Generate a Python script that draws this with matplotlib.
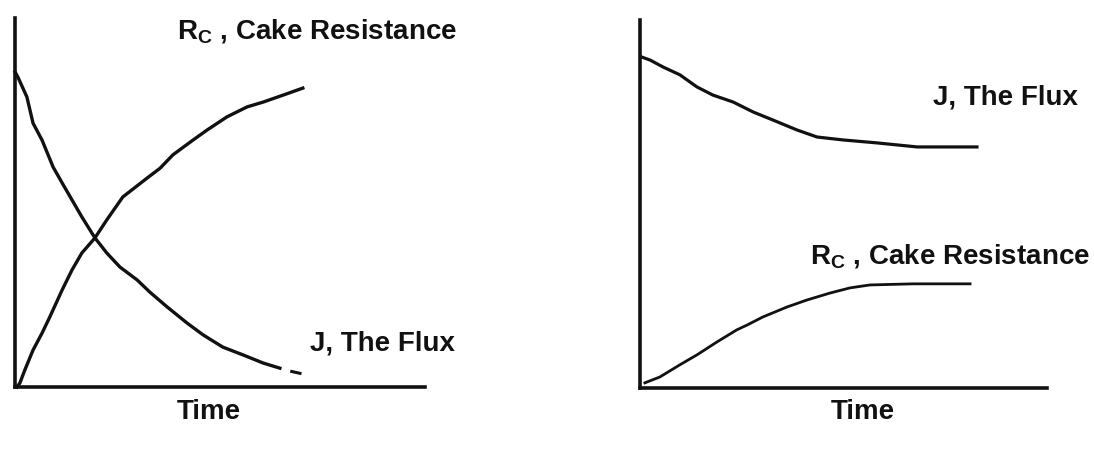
import matplotlib.pyplot as plt

# curves, in percent of each axis box
t_flux_a = [0, 0.7, 2.9, 4.4, 6.6, 9.3, 11.5, 13.9, 16.3, 19.5, 22.4, 25.6,
            29.8, 32.9, 37.1, 42.0, 45.9, 50.7, 55.6, 60.5, 64.6]
flux_a = [85.4, 84.0, 78.6, 71.5, 66.9, 59.6, 55.3, 50.7, 46.1, 40.4, 36.3,
          32.5, 29.0, 25.7, 21.7, 17.3, 14.1, 10.8, 8.7, 6.5, 5.1]
t_flux_a_tail = [67.5, 69.5]
flux_a_tail = [4.2, 3.7]
t_rc_a = [0.5, 1.2, 2.4, 4.4, 6.6, 8.5, 11.5, 13.9, 16.3, 19.5, 22.4, 26.3,
          32.2, 35.4, 38.5, 43.4, 46.8, 51.7, 56.6, 60.5, 65.4, 70.2]
rc_a = [0, 1.1, 4.6, 10.0, 14.6, 19.0, 26.3, 31.7, 36.3, 40.4, 45.3, 51.5,
        56.6, 59.3, 62.9, 66.9, 69.6, 73.2, 75.9, 77.2, 79.1, 81.0]

t_flux_b = [0.5, 2.5, 5.7, 9.8, 14.0, 17.9, 22.9, 27.8, 32.7, 38.6, 43.5,
            49.9, 58.2, 68.1, 82.8]
flux_b = [89.9, 89.1, 87.2, 85.1, 81.8, 79.6, 77.7, 75.0, 72.8, 70.1, 68.2,
          67.4, 66.6, 65.5, 65.5]
t_rc_b = [1.2, 4.9, 9.8, 14.0, 18.9, 23.8, 26.3, 30.2, 36.1, 41.0, 46.7,
          51.6, 56.5, 67.1, 81.1]
rc_b = [1.4, 3.0, 6.3, 9.0, 12.5, 15.8, 17.1, 19.3, 22.0, 23.9, 25.8, 27.2,
        28.0, 28.3, 28.3]

RC_LABEL = r"R$_\mathregular{C}$ , Cake Resistance"
J_LABEL = "J, The Flux"
X_LABEL = "Time"

plt.rcParams['font.family'] = ['Liberation Sans', 'DejaVu Sans']

fig = plt.figure(figsize=(10.94, 4.54), dpi=100)
ax1 = fig.add_axes([0.0137, 0.1476, 0.3748, 0.8128])
ax2 = fig.add_axes([0.585, 0.1454, 0.372, 0.8106])

ink = '#111111'
txt = dict(fontsize=20, fontweight='bold', color=ink, va='center')


def style(ax):
    ax.set_xlim(0, 100)
    ax.set_ylim(0, 100)
    for s in ['top', 'right']:
        ax.spines[s].set_visible(False)
    for s in ['left', 'bottom']:
        ax.spines[s].set_linewidth(2.6)
        ax.spines[s].set_color(ink)
    ax.set_xticks([])
    ax.set_yticks([])


style(ax1)
ax1.plot(t_flux_a, flux_a, color=ink, lw=2.4, clip_on=False,
         solid_joinstyle='round')
ax1.plot(t_flux_a_tail, flux_a_tail, color=ink, lw=2.2, clip_on=False)
ax1.plot(t_rc_a, rc_a, color=ink, lw=2.4, clip_on=False,
         solid_joinstyle='round')
ax1.text(0.395, 0.962, RC_LABEL, transform=ax1.transAxes, ha='left', **txt)
ax1.text(0.72, 0.119, J_LABEL, transform=ax1.transAxes, ha='left', **txt)
ax1.text(0.473, -0.068, X_LABEL, transform=ax1.transAxes, ha='center', **txt)

style(ax2)
ax2.plot(t_flux_b, flux_b, color=ink, lw=2.3, clip_on=False,
         solid_joinstyle='round')
ax2.plot(t_rc_b, rc_b, color=ink, lw=2.0, clip_on=False,
         solid_joinstyle='round')
ax2.text(0.72, 0.79, J_LABEL, transform=ax2.transAxes, ha='left', **txt)
ax2.text(0.418, 0.356, RC_LABEL, transform=ax2.transAxes, ha='left', **txt)
ax2.text(0.548, -0.066, X_LABEL, transform=ax2.transAxes, ha='center', **txt)

fig.savefig('out.png', dpi=100)
